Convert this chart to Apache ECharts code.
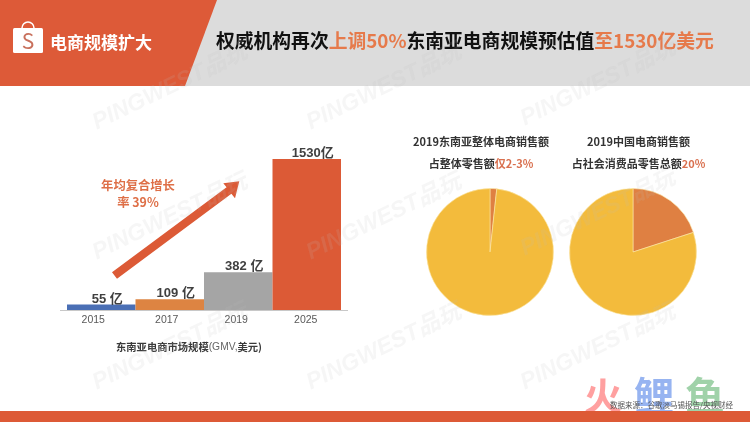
<!DOCTYPE html>
<html><head><meta charset="utf-8">
<style>html,body{margin:0;padding:0;background:#fff}#c{width:750px;height:422px}</style>
<script src="https://cdn.jsdelivr.net/npm/echarts@6/dist/echarts.min.js"></script>
</head><body><div id="c"></div>
<script>
const years = ['2015','2017','2019','2025'];
const gmv = [55,109,382,1530];
const gmvLabels = ['55 亿','109 亿','382 亿','1530亿'];
const barColors = ['#4a6fb5','#dd8442','#a5a5a5','#dc5a36'];
const seaShare = [1.7,98.3];
const chinaShare = [20,80];
const pieColors = ['#df8042','#f3bb3c'];
const watermarks = [[94,124],[308,124],[522,120],[94,254],[308,254],[522,250],[94,384],[308,384],[522,384]];
const F = '"Noto Sans CJK SC","Noto Sans",sans-serif';
const L = '"Liberation Sans","Noto Sans CJK SC",sans-serif';
const chart = echarts.init(document.getElementById('c'), null, {renderer:'canvas'});
function T(x,y,text,fs,color,weight,align,z){
  return {type:'text',x,y,z:z||20,style:{text,font:(weight||'normal')+' '+fs+'px '+F,fill:color,align:align||'center',verticalAlign:'middle'}};
}
function R(x,y,rich,text,align){
  return {type:'text',x,y,z:20,style:{rich,text,align:align||'center',verticalAlign:'middle'}};
}
const axisLabelPad = [16,6,4,2];
const wm = watermarks.map(p=>({type:'text',x:p[0],y:p[1],rotation:0.45,z:30,silent:true,
  style:{text:'PINGWEST品玩',font:'italic bold 23px "Liberation Sans",'+F,fill:'rgba(190,190,190,0.14)',align:'left',verticalAlign:'middle'}}));
const lines = {k:{font:'bold 11px '+F,fill:'#333'},o:{font:'bold 11px '+F,fill:'#d9704f'}};
chart.setOption({
  animation:false,
  backgroundColor:'#fff',
  grid:{left:67,right:409,top:159,bottom:112},
  xAxis:{type:'category',
    data:years.map((y,i)=>({value:y,textStyle:{padding:[0,axisLabelPad[i],0,0]}})),
    axisLine:{show:false},axisTick:{show:false},
    axisLabel:{color:'#595959',fontSize:10.5,margin:5,fontFamily:'"Liberation Sans"'}},
  yAxis:{type:'value',min:0,max:1530,show:false,splitLine:{show:false}},
  series:[
    {type:'bar',barWidth:'100%',barGap:0,z:3,
     data:gmv.map((v,i)=>({value:v,itemStyle:{color:barColors[i]},label:{formatter:gmvLabels[i]}})),
     label:{show:true,position:'top',distance:-1,offset:[6,0],color:'#404040',fontSize:13,fontWeight:'bold',fontFamily:L}},
    {type:'pie',center:[490,252],radius:[0,63.5],startAngle:90,clockwise:true,silent:true,label:{show:false},labelLine:{show:false},
     itemStyle:{borderColor:'#fbe7a8',borderWidth:0.6},
     data:seaShare.map((v,i)=>({value:v,itemStyle:{color:pieColors[i]}}))},
    {type:'pie',center:[633,252],radius:[0,63.5],startAngle:90,clockwise:true,silent:true,label:{show:false},labelLine:{show:false},
     itemStyle:{borderColor:'#fbe7a8',borderWidth:0.6},
     data:chinaShare.map((v,i)=>({value:v,itemStyle:{color:pieColors[i]}}))}
  ],
  graphic:[
    {type:'rect',z:1,shape:{x:0,y:0,width:750,height:86},style:{fill:'#dcdcdc'}},
    {type:'polygon',z:2,shape:{points:[[0,0],[217,0],[185,86],[0,86]]},style:{fill:'#dd5a38'}},
    {type:'rect',z:3,shape:{x:0,y:411,width:750,height:11},style:{fill:'#dd5a36'}},
    {type:'line',z:1,shape:{x1:60,y1:310.5,x2:348,y2:310.5},style:{stroke:'#c8c8c8',lineWidth:1}},
    // bag icon
    {type:'arc',z:3,shape:{cx:28,cy:28,r:6,startAngle:Math.PI,endAngle:0},style:{fill:null,stroke:'#fff',lineWidth:1.5}},
    {type:'rect',z:3,shape:{x:13,y:28,width:30,height:25,r:1.5},style:{fill:'#fff'}},
    T(28,41,'S',21,'#c8705c','normal'),
    T(50,43,'电商规模扩大',17,'#fff','bold','left'),
    R(216,41,{k:{font:'bold 18.8px '+F,fill:'#111'},o:{font:'bold 18.8px '+F,fill:'#e67a4b'}},
      '{k|权威机构再次}{o|上调50%}{k|东南亚电商规模预估值}{o|至1530亿美元}','left'),
    // growth arrow
    {type:'polygon',z:10,shape:{points:[[112,272.2],[117,278.7],[231.4,193.7],[235,198.3],[239.3,181.3],[223.3,183.3],[226.6,187.3]]},style:{fill:'#dc5a36'}},
    T(138,185,'年均复合增长',12.3,'#de6f47','bold'),
    T(138,202,'率 39%',12.3,'#de6f47','bold'),
    R(189,347,{k:{font:'bold 10.3px '+F,fill:'#3a3a3a'},g:{font:'10.3px "Liberation Sans"',fill:'#666'}},
      '{k|东南亚电商市场规模}{g|(GMV,}{k|美元)}'),
    T(481,142,'2019东南亚整体电商销售额',11,'#333','bold'),
    R(481,164,lines,'{k|占整体零售额}{o|仅2-3%}'),
    T(638.5,142,'2019中国电商销售额',11,'#333','bold'),
    R(638.5,164,lines,'{k|占社会消费品零售总额}{o|20%}'),
    T(584,396,'火',38,'rgba(255,150,150,0.9)','bold','left',2),
    T(634,396,'鲤',40,'rgba(140,172,240,0.9)','bold','left',2),
    T(685,396,'鱼',40,'rgba(150,205,160,0.9)','bold','left',2),
    T(733,405,'数据来源：谷歌淡马锡报告/央视财经',7.5,'#555','normal','right'),
    ...wm
  ]
});
</script></body></html>
